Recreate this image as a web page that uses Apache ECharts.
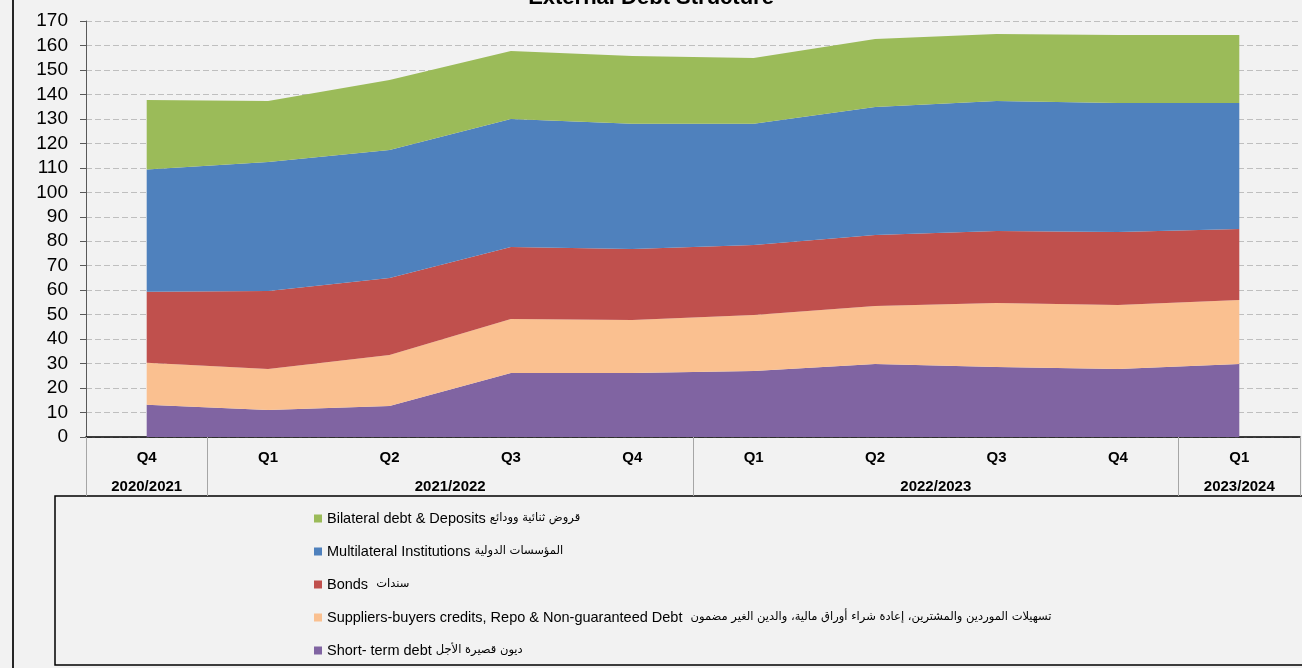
<!DOCTYPE html>
<html>
<head>
<meta charset="utf-8">
<title>External Debt Structure</title>
<script src="https://cdn.jsdelivr.net/npm/echarts@6/dist/echarts.min.js"></script>
<style>
  html, body { margin: 0; padding: 0; background: #f2f2f2; }
  #chart { width: 1302px; height: 668px; }
</style>
</head>
<body>
<div id="chart"></div>
<script>
// quarters and fiscal years
const quarters = ['Q4', 'Q1', 'Q2', 'Q3', 'Q4', 'Q1', 'Q2', 'Q3', 'Q4', 'Q1']
const yearLabels = ['2020/2021', '2021/2022', '2022/2023', '2023/2024']
const yearCenters = [0.5, 3, 7, 9.5] // middle of each year group, in category units
const yearEdges = [0, 1, 5, 9, 10]

// values (stacked, bottom to top)
const shortTerm = [13.2, 11.0, 12.7, 26.2, 26.2, 27.0, 29.8, 28.6, 27.8, 29.8]
const suppliers = [17.1, 16.8, 20.8, 22.0, 21.6, 22.9, 23.7, 26.2, 26.1, 26.2]
const bonds = [29.1, 31.9, 31.5, 29.4, 29.0, 28.6, 29.0, 29.4, 29.9, 29.0]
const multilateral = [49.9, 52.7, 52.3, 52.4, 51.2, 49.5, 52.4, 53.1, 52.7, 51.5]
const bilateral = [28.4, 24.9, 28.6, 27.7, 27.7, 26.9, 27.7, 27.4, 27.8, 27.8]

const names = {
  bilateral: 'Bilateral debt & Deposits قروض ثنائية وودائع',
  multilateral: 'Multilateral Institutions المؤسسات الدولية',
  bonds: 'Bonds  سندات',
  suppliers: 'Suppliers-buyers credits, Repo & Non-guaranteed Debt  تسهيلات الموردين والمشترين، إعادة شراء أوراق مالية، والدين الغير مضمون',
  shortTerm: 'Short- term debt ديون قصيرة الأجل'
}

const font = '"Liberation Sans", Arial, "DejaVu Sans", sans-serif'

// english part normal size, arabic part a bit smaller like the original
function legendText(name) {
  const i = name.search(/[\u0600-\u06FF]/)
  if (i < 0) return '{en|' + name + '}'
  return '{en|' + name.slice(0, i) + '}{ar|' + name.slice(i) + '}'
}

function area(name, data, color) {
  return {
    name: name,
    type: 'line',
    stack: 'debt',
    data: data,
    symbol: 'none',
    color: color,
    lineStyle: { width: 0 },
    areaStyle: { color: color, opacity: 1 },
    emphasis: { disabled: true }
  }
}

const chart = echarts.init(document.getElementById('chart'))

chart.setOption({
  backgroundColor: '#f2f2f2',
  animation: false,
  textStyle: { fontFamily: font },
  title: {
    text: 'External Debt Structure',
    left: 'center',
    top: -18,
    textStyle: { fontSize: 22, fontWeight: 'bold', color: '#000', fontFamily: font }
  },
  grid: {
    left: 86,
    right: 2,
    top: 21,
    bottom: 231
  },
  legend: {
    orient: 'vertical',
    left: 309,
    top: 506,
    itemWidth: 8,
    itemHeight: 8,
    itemGap: 18,
    icon: 'rect',
    data: [names.bilateral, names.multilateral, names.bonds, names.suppliers, names.shortTerm],
    formatter: legendText,
    textStyle: {
      fontSize: 14.5,
      color: '#000',
      fontFamily: font,
      rich: {
        en: { fontSize: 14.5, color: '#000', fontFamily: font },
        ar: { fontSize: 11.5, color: '#000', fontFamily: '"DejaVu Sans", sans-serif' }
      }
    }
  },
  xAxis: [
    {
      type: 'category',
      data: quarters,
      boundaryGap: true,
      axisLine: { lineStyle: { color: '#000', width: 1.5 } },
      axisTick: { interval: 0, length: 33, lineStyle: { color: '#a6a6a6' } },
      axisLabel: {
        interval: 0,
        margin: 13,
        fontSize: 15,
        fontWeight: 'bold',
        color: '#000',
        fontFamily: font
      }
    },
    {
      type: 'value',
      min: 0,
      max: 10,
      position: 'bottom',
      axisLine: { show: false },
      splitLine: { show: false },
      axisTick: { customValues: yearEdges, length: 59, lineStyle: { color: '#a6a6a6' } },
      axisLabel: {
        customValues: yearCenters,
        margin: 42,
        fontSize: 15,
        fontWeight: 'bold',
        color: '#000',
        fontFamily: font,
        formatter: function(v) {
          const i = yearCenters.indexOf(v)
          return i >= 0 ? yearLabels[i] : ''
        }
      }
    }
  ],
  yAxis: {
    type: 'value',
    min: 0,
    max: 170,
    interval: 10,
    axisLine: { show: true, lineStyle: { color: '#595959' } },
    axisTick: { show: true, length: 6, lineStyle: { color: '#595959' } },
    axisLabel: { fontSize: 19, color: '#000', margin: 18, fontFamily: font },
    splitLine: { lineStyle: { type: [6, 3], color: '#bfbfbf' } }
  },
  series: [
    area(names.shortTerm, shortTerm, '#8064a2'),
    area(names.suppliers, suppliers, '#fac090'),
    area(names.bonds, bonds, '#c0504d'),
    area(names.multilateral, multilateral, '#4f81bd'),
    area(names.bilateral, bilateral, '#9bbb59')
  ],
  graphic: [
    // outer chart border on the left
    { type: 'line', shape: { x1: 13, y1: 0, x2: 13, y2: 668 }, style: { stroke: '#262626', lineWidth: 2 }, silent: true },
    // legend frame
    { type: 'rect', shape: { x: 55, y: 496, width: 1260, height: 169 }, style: { fill: 'transparent', stroke: '#000', lineWidth: 1.5 }, silent: true, z: -1 }
  ]
})
</script>
</body>
</html>
